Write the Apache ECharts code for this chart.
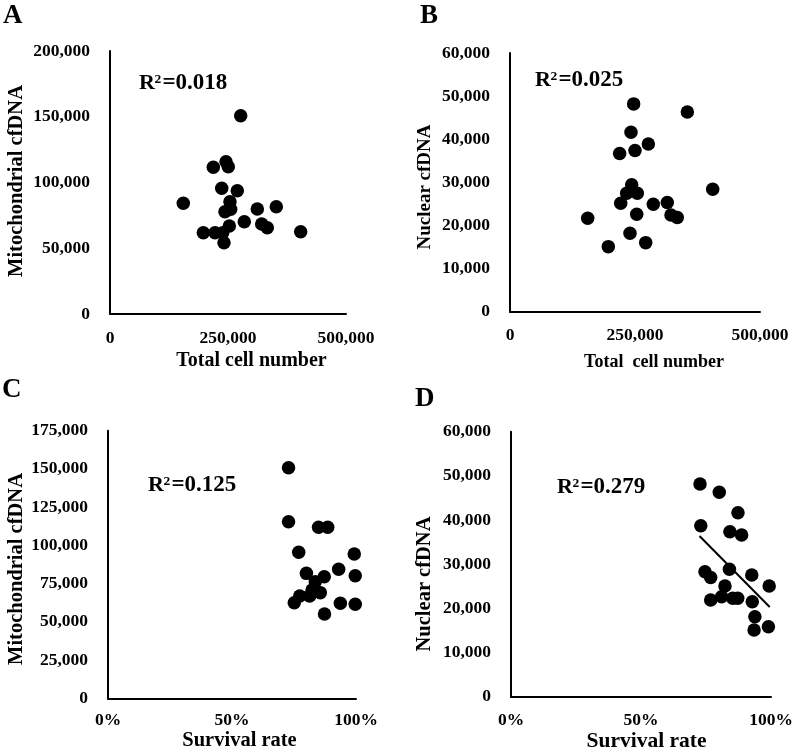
<!DOCTYPE html>
<html>
<head>
<meta charset="utf-8">
<script src="https://cdn.jsdelivr.net/npm/echarts@6/dist/echarts.min.js"></script>
<style>html,body{margin:0;padding:0;background:#fff}#c{width:798px;height:756px}</style>
</head>
<body>
<div id="c"></div>
<script>
// Panel A: total cell number vs mitochondrial cfDNA
const aCells = [276900, 218900, 245800, 250600, 236700, 269700, 155300, 254200, 243600, 255700, 312100, 352300, 284500, 321400, 333300, 252800, 197700, 222500, 238800, 241500, 404000];
const aMito  = [150800, 111600, 115800, 112000, 95600, 93800, 84200, 85400, 77800, 79600, 79800, 81600, 70200, 68400, 65600, 66900, 61800, 61800, 61800, 54200, 62600];
// Panel B: total cell number vs nuclear cfDNA
const bCells = [247300, 354700, 242000, 276700, 219300, 250000, 243400, 233400, 254600, 221400, 286600, 314600, 253400, 322000, 334600, 405400, 240000, 271400, 196600, 155400];
const bNuc   = [48200, 46300, 41600, 38900, 36700, 37400, 29420, 27490, 27490, 25170, 24940, 25310, 22620, 22450, 21830, 28420, 18200, 16020, 15090, 21690];
// Panel C: survival rate vs mitochondrial cfDNA
const cSurv = [0.728, 0.728, 0.849, 0.886, 0.769, 0.993, 0.930, 0.800, 0.872, 0.997, 0.836, 0.823, 0.856, 0.773, 0.813, 0.751, 0.937, 0.997, 0.873];
const cMito = [150800, 115500, 111800, 111800, 95500, 94400, 84400, 81700, 79500, 80200, 76300, 70800, 69100, 66900, 66900, 62500, 62100, 61500, 55100];
// Panel D: survival rate vs nuclear cfDNA
const dSurv = [0.727, 0.801, 0.873, 0.730, 0.842, 0.887, 0.746, 0.768, 0.840, 0.926, 0.993, 0.823, 0.768, 0.810, 0.853, 0.872, 0.928, 0.938, 0.935, 0.990];
const dNuc  = [48150, 46270, 41660, 38720, 37360, 36600, 28300, 27000, 28850, 27550, 25060, 25060, 21900, 22640, 22280, 22280, 21500, 18100, 15100, 15850];
// Panel D trend line endpoints
const dTrendX = [0.725, 0.995];
const dTrendY = [36400, 20300];

const panelLetters = ['A', 'B', 'C', 'D'];
const r2Values = ['0.018', '0.025', '0.125', '0.279'];
const xTitles = ['Total cell number', 'Total  cell number', 'Survival rate', 'Survival rate'];
const yTitles = ['Mitochondrial cfDNA', 'Nuclear cfDNA', 'Mitochondrial cfDNA', 'Nuclear cfDNA'];
const xRanges = [[0, 500000, 250000], [0, 500000, 250000], [0, 1, 0.5], [0, 1, 0.5]];
const yRanges = [[0, 200000, 50000], [0, 60000, 10000], [0, 175000, 25000], [0, 60000, 10000]];

const FONT = '"Liberation Serif", "Times New Roman", serif';
const zip = (xs, ys) => xs.map((x, i) => [x, ys[i]]);
const numFmt = v => Math.round(v).toLocaleString('en-US');
const pctFmt = v => Math.round(v * 100) + '%';

const grids = [
  {left: 110, top: 51, width: 236, height: 263},
  {left: 510, top: 53, width: 250, height: 258.7},
  {left: 108, top: 430.7, width: 248, height: 267.6},
  {left: 511, top: 431.7, width: 260, height: 265}
];
const xLabelMargin = [15, 15, 13, 15];

const xAxes = xRanges.map((r, i) => ({
  type: 'value', gridIndex: i, min: r[0], max: r[1], interval: r[2],
  axisLine: {show: true, onZero: false, lineStyle: {color: '#000', width: 2}},
  axisTick: {show: false}, splitLine: {show: false},
  axisLabel: {color: '#000', fontFamily: FONT, fontWeight: 'bold', fontSize: 17.5, margin: xLabelMargin[i],
    formatter: i < 2 ? numFmt : pctFmt}
}));
const yAxes = yRanges.map((r, i) => ({
  type: 'value', gridIndex: i, min: r[0], max: r[1], interval: r[2],
  axisLine: {show: true, onZero: false, lineStyle: {color: '#000', width: 2}},
  axisTick: {show: false}, splitLine: {show: false},
  axisLabel: {color: '#000', fontFamily: FONT, fontWeight: 'bold', fontSize: 17.5, margin: 20, formatter: numFmt}
}));

const scatterData = [zip(aCells, aMito), zip(bCells, bNuc), zip(cSurv, cMito), zip(dSurv, dNuc)];
const series = scatterData.map((d, i) => ({
  type: 'scatter', xAxisIndex: i, yAxisIndex: i, data: d,
  symbol: 'circle', symbolSize: 13.5, itemStyle: {color: '#000', opacity: 1}, silent: true
}));
series.push({
  type: 'line', xAxisIndex: 3, yAxisIndex: 3, data: zip(dTrendX, dTrendY),
  symbol: 'none', lineStyle: {color: '#000', width: 2}, silent: true
});

// text placements
const letterPos = [[3, 16], [420, 16], [2, 390], [415, 399]];
const r2Pos = [[139, 83.5], [535, 80], [148, 485.5], [557, 487.5]];
const xTitlePos = [[251.5, 361, 20], [654, 362, 18], [239.5, 740.5, 20.5], [646.5, 741, 21.5]];
const yTitlePos = [[16.5, 181, 20.5], [425, 187, 19], [16.5, 569, 20.5], [425, 584, 20.5]];

const graphic = [];
panelLetters.forEach((t, i) => graphic.push({
  type: 'text', x: letterPos[i][0], y: letterPos[i][1],
  style: {text: t, fill: '#000', font: 'bold 27px ' + FONT, align: 'left', verticalAlign: 'middle'}
}));
r2Values.forEach((t, i) => {
  const [x, y] = r2Pos[i];
  graphic.push({type: 'text', x: x, y: y,
    style: {text: 'R', fill: '#000', font: 'bold 22px ' + FONT, align: 'left', verticalAlign: 'middle'}});
  graphic.push({type: 'text', x: x + 15.5, y: y - 3.8,
    style: {text: '2', fill: '#000', font: 'bold 13.5px ' + FONT, align: 'left', verticalAlign: 'middle'}});
  graphic.push({type: 'text', x: x + 23.5, y: y,
    style: {text: '=' + t, fill: '#000', font: 'bold 23px ' + FONT, align: 'left', verticalAlign: 'middle'}});
});
xTitles.forEach((t, i) => graphic.push({
  type: 'text', x: xTitlePos[i][0], y: xTitlePos[i][1],
  style: {text: t, fill: '#000', font: 'bold ' + xTitlePos[i][2] + 'px ' + FONT, align: 'center', verticalAlign: 'middle'}
}));
yTitles.forEach((t, i) => graphic.push({
  type: 'text', x: yTitlePos[i][0], y: yTitlePos[i][1], rotation: Math.PI / 2,
  style: {text: t, fill: '#000', font: 'bold ' + yTitlePos[i][2] + 'px ' + FONT, align: 'center', verticalAlign: 'middle'}
}));

const chart = echarts.init(document.getElementById('c'), null, {renderer: 'canvas'});
chart.setOption({
  animation: false,
  backgroundColor: '#fff',
  grid: grids,
  xAxis: xAxes,
  yAxis: yAxes,
  series: series,
  graphic: graphic
});
</script>
</body>
</html>
